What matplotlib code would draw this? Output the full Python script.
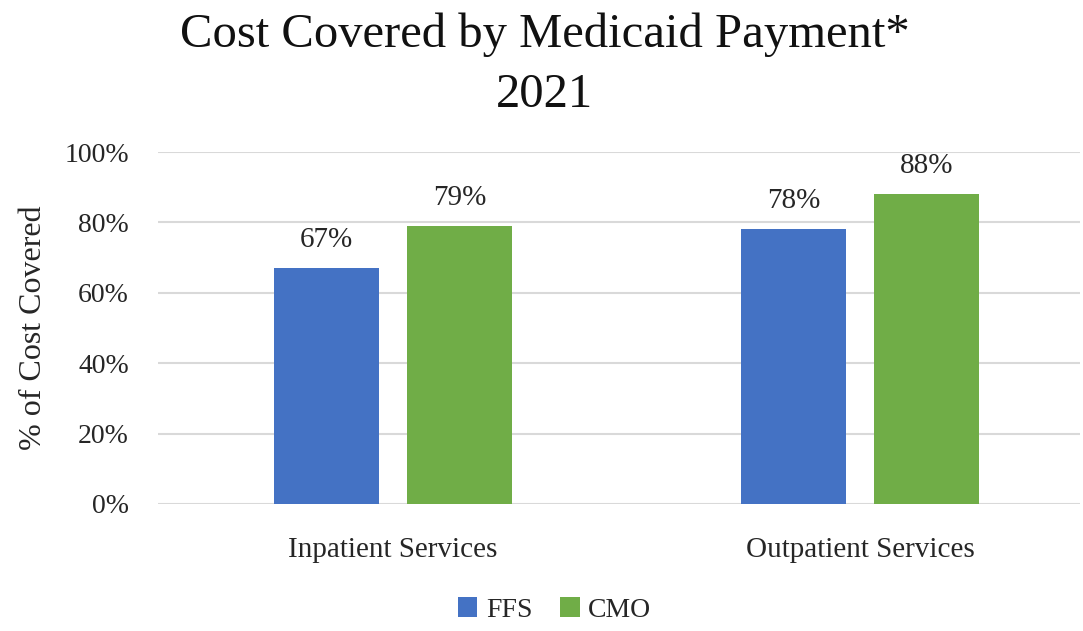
import matplotlib.pyplot as plt
import numpy as np

categories = ["Inpatient Services", "Outpatient Services"]
series_names = ["FFS", "CMO"]
ffs = [67, 78]
cmo = [79, 88]
labels_ffs = ["67%", "78%"]
labels_cmo = ["79%", "88%"]
yticks = [0, 20, 40, 60, 80, 100]
title_lines = ["Cost Covered by Medicaid Payment*", "2021"]

plt.rcParams['font.family'] = ['Liberation Serif', 'DejaVu Serif']

fig = plt.figure(figsize=(10.83, 6.31), dpi=100)
ax = fig.add_axes([0.1459, 0.2013, 0.8513, 0.5578])

x = np.arange(len(categories))
width = 0.225
offset = 0.1424
colors = ["#4472C4", "#70AD47"]

b1 = ax.bar(x - offset, ffs, width, color=colors[0], label=series_names[0], zorder=3)
b2 = ax.bar(x + offset, cmo, width, color=colors[1], label=series_names[1], zorder=3)

for bars, labs in ((b1, labels_ffs), (b2, labels_cmo)):
    for rect, lab in zip(bars, labs):
        ax.annotate(lab, (rect.get_x() + rect.get_width() / 2, rect.get_height()),
                    xytext=(0, 11), textcoords="offset points",
                    ha="center", va="bottom", fontsize=21, color="#262626")

ax.set_xlim(-0.503, 1.47)
ax.set_ylim(0, 100)
ax.set_yticks(yticks)
ax.set_yticklabels([f"{t}%" for t in yticks])
ax.set_xticks(x)
ax.set_xticklabels(categories)
ax.tick_params(axis="y", length=0, pad=21, labelsize=20, labelcolor="#262626")
ax.tick_params(axis="x", length=0, pad=24, labelsize=21, labelcolor="#262626")
ax.grid(axis="y", color="#D9D9D9", linewidth=1.5, zorder=0)
for s in ax.spines.values():
    s.set_visible(False)

ax.set_ylabel("% of Cost Covered", fontsize=23, color="#262626", labelpad=12)

fig.text(0.503, 1 - 35 / 631, title_lines[0], fontsize=35, ha="center", va="center",
         color="#111111")
fig.text(0.503, 1 - 95 / 631, title_lines[1], fontsize=35, ha="center", va="center",
         color="#111111")

fig.legend(handles=[b1, b2], loc="center", bbox_to_anchor=(0.512, 1 - 610 / 631), ncol=2,
           frameon=False, fontsize=20, handlelength=0.7, handleheight=0.7,
           handletextpad=0.3, columnspacing=1.0, labelcolor="#262626")

fig.savefig("out.png", dpi=100)
